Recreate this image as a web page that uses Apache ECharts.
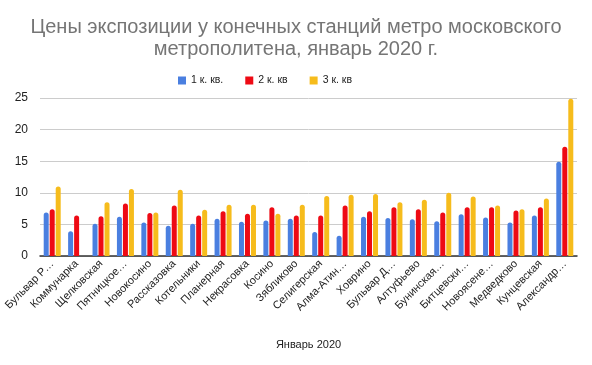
<!DOCTYPE html>
<html><head><meta charset="utf-8">
<script src="https://cdn.jsdelivr.net/npm/echarts@6/dist/echarts.min.js"></script>
<style>html,body{margin:0;padding:0;background:#fff}#c{width:592px;height:365px}</style>
</head><body><div id="c"></div>
<script>
const categories = ['Бульвар Р…','Коммунарка','Щелковская','Пятницкое…','Новокосино','Рассказовка','Котельники','Планерная','Некрасовка','Косино','Зябликово','Селигерская','Алма-Атин…','Ховрино','Бульвар Д…','Алтуфьево','Бунинская…','Битцевски…','Новоясене…','Медведково','Кунцевская','Александр…'];
const q1 = [6.9,3.9,5.1,6.2,5.3,4.8,5.1,5.9,5.4,5.6,5.9,3.8,3.2,6.2,6.0,5.8,5.5,6.6,6.1,5.3,6.4,14.9];
const q2 = [7.4,6.4,6.3,8.3,6.8,8.0,6.4,7.1,6.7,7.7,6.4,6.4,8.0,7.1,7.7,7.4,6.9,7.7,7.7,7.2,7.7,17.3];
const q3 = [11.0,null,8.5,10.6,6.9,10.5,7.3,8.1,8.1,6.7,8.1,9.5,9.7,9.8,8.5,8.9,10.0,9.4,8.0,7.4,9.1,24.9];
const seriesNames = ['1 к. кв.','2 к. кв','3 к. кв'];
const colors = ['#4a7fe0','#ee0a14','#f6bc1c'];
const yTicks = {min:0,max:25,interval:5};

const chart = echarts.init(document.getElementById('c'));
const mk = (name, data, color) => ({
  name, type:'bar', data, barWidth:5, barGap:'20%',
  itemStyle:{color, borderRadius:[2.5,2.5,0,0]}
});
chart.setOption({
  animation:false,
  color:colors,
  title:{
    text:'Цены экспозиции у конечных станций метро московского\nметрополитена, январь 2020 г.',
    left:'center', top:11,
    textStyle:{fontFamily:'Liberation Sans, Arial', fontSize:20, fontWeight:'normal', color:'#757575', lineHeight:22}
  },
  legend:{
    top:70, left:173, itemWidth:8, itemHeight:8, itemGap:22, icon:'rect',
    textStyle:{fontFamily:'Liberation Sans, Arial', fontSize:10.5, color:'#222'},
    data:seriesNames
  },
  grid:{left:40, right:15, top:98, bottom:109, containLabel:false},
  xAxis:{
    type:'category', data:categories,
    name:'Январь 2020', nameLocation:'middle', nameGap:83,
    nameTextStyle:{fontFamily:'Liberation Sans, Arial', fontSize:11, color:'#222'},
    axisLine:{lineStyle:{color:'#333', width:1.5}},
    axisTick:{show:false},
    axisLabel:{rotate:45, interval:0, fontFamily:'Liberation Sans, Arial', fontSize:11, color:'#222', margin:6},
  },
  yAxis:{
    type:'value', min:yTicks.min, max:yTicks.max, interval:yTicks.interval,
    axisLine:{show:false}, axisTick:{show:false},
    axisLabel:{fontFamily:'Liberation Sans, Arial', fontSize:12, color:'#222', margin:12},
    splitLine:{lineStyle:{color:'#ccc'}}
  },
  series:[mk(seriesNames[0],q1,colors[0]), mk(seriesNames[1],q2,colors[1]), mk(seriesNames[2],q3,colors[2])]
});
</script></body></html>
